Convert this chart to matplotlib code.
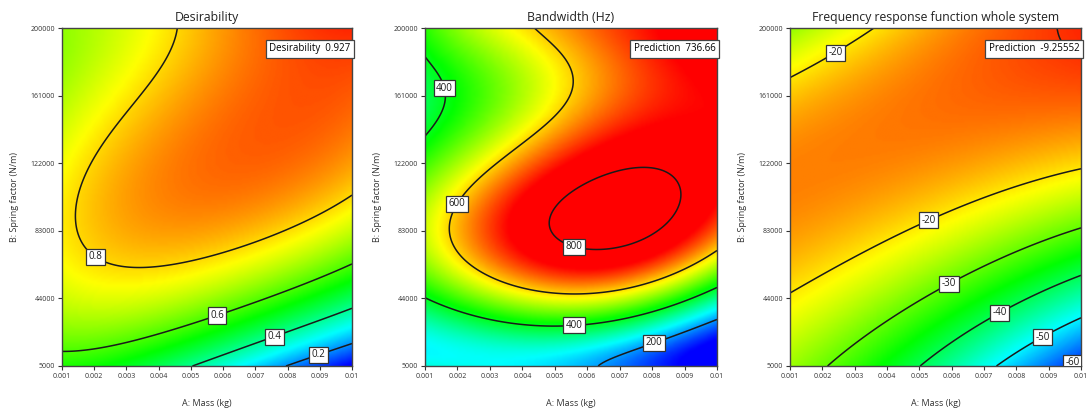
import numpy as np
import matplotlib
matplotlib.use("Agg")
import matplotlib.pyplot as plt
from matplotlib.colors import LinearSegmentedColormap

plt.rcParams['font.family'] = ['Open Sans', 'DejaVu Sans']
plt.rcParams['contour.negative_linestyle'] = 'solid'

# grid (rows = spring factor, cols = mass)
mass_grid = [0.001, 0.0028, 0.0046, 0.0064, 0.0082, 0.01]
spring_grid = [5000, 44000, 83000, 122000, 161000, 200000]

desirability = [
    [0.56, 0.53, 0.41, 0.31, 0.18, 0.06],
    [0.70, 0.73, 0.71, 0.65, 0.56, 0.44],
    [0.795, 0.85, 0.86, 0.84, 0.80, 0.71],
    [0.75, 0.83, 0.88, 0.90, 0.89, 0.85],
    [0.70, 0.77, 0.845, 0.90, 0.92, 0.93],
    [0.66, 0.72, 0.81, 0.88, 0.93, 0.96],
]
bandwidth = [
    [265, 275, 255, 185, 130, 75],
    [420, 485, 530, 580, 470, 345],
    [540, 665, 800, 850, 810, 650],
    [440, 580, 690, 780, 780, 745],
    [368, 475, 560, 610, 700, 750],
    [440, 525, 610, 680, 740, 770],
]
frf = [
    [-27, -32, -38.5, -45, -53, -63],
    [-20, -24, -28.5, -35, -39.5, -44],
    [-16, -18, -20.2, -24, -27, -30],
    [-13, -13, -14, -16, -18, -20.3],
    [-20.5, -16, -13, -12, -12, -12],
    [-26, -22.5, -18.5, -14, -11.5, -9],
]

mass_ticks = [0.001, 0.002, 0.003, 0.004, 0.005, 0.006, 0.007, 0.008, 0.009, 0.01]
mass_labels = ['0.001', '0.002', '0.003', '0.004', '0.005', '0.006', '0.007', '0.008', '0.009', '0.01']
spring_ticks = [5000, 44000, 83000, 122000, 161000, 200000]
spring_labels = ['5000', '44000', '83000', '122000', '161000', '200000']

panels = [
    dict(title='Desirability', z=desirability, levels=[0.2, 0.4, 0.6, 0.8],
         fmt='%.1f', vmin=0.06, vmax=1.0, flag='Desirability  0.927', deg=4,
         labels=[(0.112, 0.32), (0.53, 0.16), (0.726, 0.10), (0.874, 0.06)]),
    dict(title='Bandwidth (Hz)', z=bandwidth, levels=[200, 400, 600, 800],
         fmt='%d', vmin=100, vmax=730, flag='Prediction  736.66', deg=5,
         labels=[(0.06, 0.82), (0.13, 0.47), (0.51, 0.356), (0.51, 0.144), (0.79, 0.057)]),
    dict(title='Frequency response function whole system', z=frf,
         levels=[-60, -50, -40, -30, -20, -10], fmt='%d', vmin=-64, vmax=-7,
         flag='Prediction  -9.25552', deg=4,
         labels=[(0.175, 0.90), (0.47, 0.444), (0.55, 0.238), (0.72, 0.156),
                 (0.866, 0.087), (0.963, 0.023)]),
]

cmap = LinearSegmentedColormap.from_list(
    'de', ['#0000ff', '#00ffff', '#00ff00', '#ffff00', '#ff0000'])

lefts = [62, 425, 790]
widths = [290, 292, 291]

fig = plt.figure(figsize=(10.87, 4.16), dpi=100)

# smooth response surface: least squares polynomial fit of the read grid
gu, gv = np.meshgrid(np.linspace(0, 1, len(mass_grid)), np.linspace(0, 1, len(spring_grid)))
fu, fv = np.meshgrid(np.linspace(0, 1, 200), np.linspace(0, 1, 200))


def design(u, v, deg):
    powers = [(i, j) for i in range(deg + 1) for j in range(deg + 1) if i + j <= deg]
    return np.stack([u.ravel() ** i * v.ravel() ** j for i, j in powers], axis=1)


xmin, xmax = mass_grid[0], mass_grid[-1]
ymin, ymax = spring_grid[0], spring_grid[-1]
X = xmin + fu * (xmax - xmin)
Y = ymin + fv * (ymax - ymin)

for k, p in enumerate(panels):
    ax = fig.add_axes([lefts[k] / 1087, 50 / 416, widths[k] / 1087, 338 / 416])
    coef, *_ = np.linalg.lstsq(design(gu, gv, p['deg']),
                               np.array(p['z'], float).ravel(), rcond=None)
    Z = (design(fu, fv, p['deg']) @ coef).reshape(fu.shape)

    ax.imshow(Z, origin='lower', extent=[xmin, xmax, ymin, ymax], aspect='auto',
              cmap=cmap, vmin=p['vmin'], vmax=p['vmax'], interpolation='bicubic')
    cs = ax.contour(X, Y, Z, levels=p['levels'], colors='#1a1a1a', linewidths=1.1)
    pos = [(xmin + u * (xmax - xmin), ymin + v * (ymax - ymin)) for u, v in p['labels']]
    txts = ax.clabel(cs, fmt=p['fmt'], fontsize=7, inline=False, manual=pos)
    for t in txts:
        t.set_rotation(0)
        t.set_zorder(5)
        t.set_bbox(dict(facecolor='white', edgecolor='#333333', linewidth=0.9, pad=1.8))

    ax.text(0.995, 0.955, p['flag'], transform=ax.transAxes, ha='right', va='top',
            fontsize=7, zorder=6,
            bbox=dict(facecolor='white', edgecolor='#444444', linewidth=0.9, pad=2.6))

    ax.set_xlim(xmin, xmax)
    ax.set_ylim(ymin, ymax)
    ax.set_xticks(mass_ticks)
    ax.set_xticklabels(mass_labels)
    ax.set_yticks(spring_ticks)
    ax.set_yticklabels(spring_labels)
    ax.tick_params(direction='out', length=3, width=0.8, labelsize=5, colors='#333333',
                   pad=2)
    for s in ax.spines.values():
        s.set_color('#444444')
        s.set_linewidth(1.0)
    ax.set_title(p['title'], fontsize=8.8, color='#222222', pad=5)
    ax.set_xlabel('A: Mass (kg)', fontsize=6.5, color='#333333', labelpad=14)
    ax.set_ylabel('B: Spring factor (N/m)', fontsize=6.5, color='#333333', labelpad=8)

fig.savefig('out.png', dpi=100)
